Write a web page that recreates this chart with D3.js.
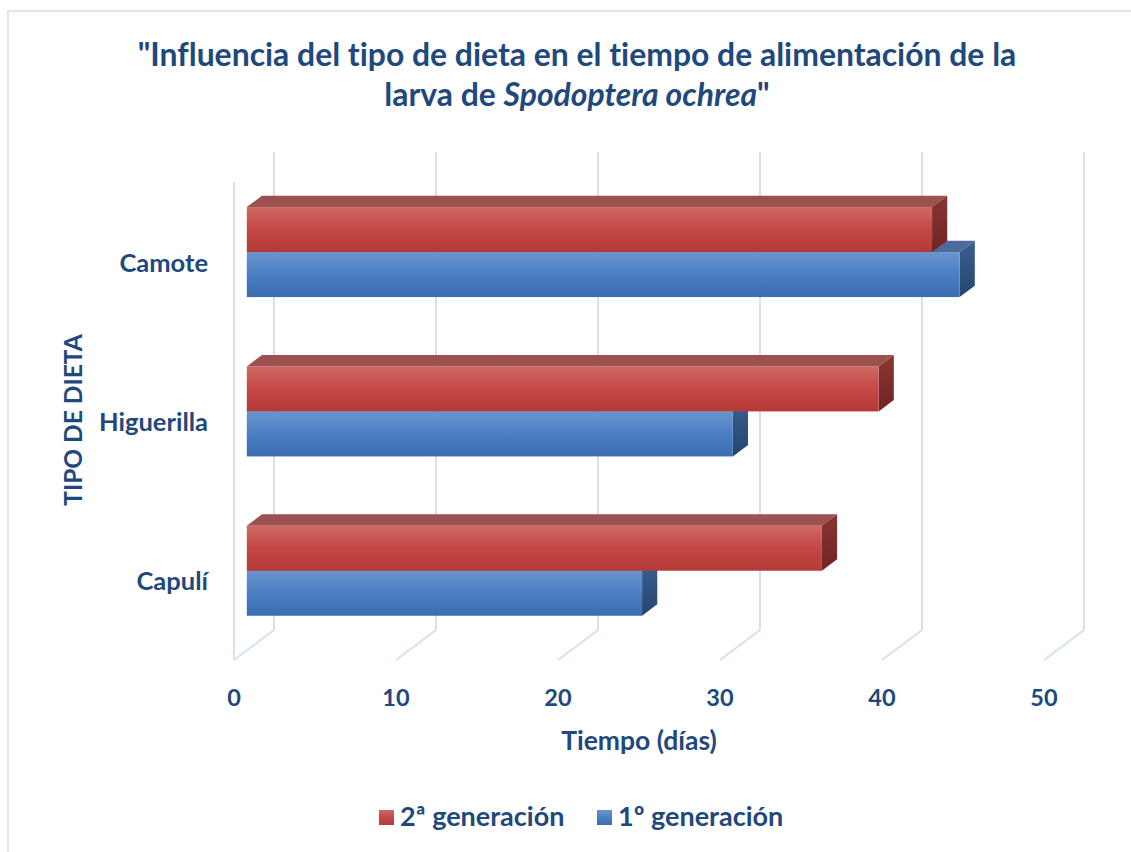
<!DOCTYPE html>
<html>
<head>
<meta charset="utf-8">
<script src="https://cdn.jsdelivr.net/npm/d3@7"></script>
<style>
  body { margin: 0; background: #fff; }
  svg text { font-family: Lato, "Open Sans", sans-serif; font-weight: bold; fill: #1f497d;
             font-variant-ligatures: none; font-feature-settings: "liga" 0, "dlig" 0; }
</style>
</head>
<body>
<svg id="chart" width="1131" height="852"></svg>
<script>
// values
const categories = ["Camote", "Higuerilla", "Capulí"];
const seriesNames = ["2ª generación", "1º generación"];
const gen2 = [42.3, 39, 35.5];
const gen1 = [44, 30, 24.4];
const xTicks = [0, 10, 20, 30, 40, 50];

const svg = d3.select("#chart");
const gridColour = "#d5e1f2";

// 3d box: front plane, then depth offset to the back wall
const depth = {dx: 40, dy: -30};
const barFront = 0.32, barBack = 0.7;
const off = d => [depth.dx * d, depth.dy * d];

const x = d3.scaleLinear().domain([0, 50]).range([234, 1044]);
const y = d3.scaleBand().domain(categories).range([182, 660])
    .paddingInner(0.435).paddingOuter(0.2175);
const ySeries = d3.scaleBand().domain(seriesNames).range([0, y.bandwidth()]);

// gradients
const defs = svg.append("defs");
function vGrad(id, stops) {
    const g = defs.append("linearGradient").attr("id", id)
        .attr("x1", 0).attr("y1", 0).attr("x2", 0).attr("y2", 1);
    stops.forEach(s => g.append("stop").attr("offset", s[0]).attr("stop-color", s[1]));
}
vGrad("redFront", [[0, "#cd6a66"], [0.5, "#c44845"], [1, "#b43a37"]]);
vGrad("blueFront", [[0, "#6a95cd"], [0.5, "#4a7fc2"], [1, "#3b6db0"]]);
vGrad("redSide", [[0, "#8a3532"], [1, "#6e2523"]]);
vGrad("blueSide", [[0, "#3b5f90"], [1, "#254570"]]);

const styles = {
    "2ª generación": {front: "url(#redFront)", top: "#9a514f", side: "url(#redSide)", legend: "url(#redFront)"},
    "1º generación": {front: "url(#blueFront)", top: "#4b6c9b", side: "url(#blueSide)", legend: "url(#blueFront)"}
};

// outer chart border
svg.append("rect").attr("x", 8).attr("y", 11).attr("width", 1140).attr("height", 860)
    .attr("fill", "none").attr("stroke", "#dce6f4").attr("stroke-width", 2);

// title
const title = svg.append("text").attr("text-anchor", "middle").attr("font-size", 31.9);
title.append("tspan").attr("x", 577).attr("y", 66)
    .text("\"Influencia del tipo de dieta en el tiempo de alimentación de la");
const t2 = title.append("tspan").attr("x", 577).attr("y", 106);
t2.append("tspan").text("larva de ");
t2.append("tspan").attr("font-style", "italic").text("Spodoptera ochrea");
t2.append("tspan").text("\"");

// walls and grid
const [bx, by] = off(1);
const y0 = y.range()[0], y1 = y.range()[1];
const grid = svg.append("g").attr("stroke", gridColour).attr("stroke-width", 2).attr("fill", "none");
grid.append("line").attr("x1", x(0)).attr("x2", x(0)).attr("y1", y0).attr("y2", y1);
grid.selectAll(".back").data(xTicks).join("line")
    .attr("x1", d => x(d) + bx).attr("x2", d => x(d) + bx)
    .attr("y1", y0 + by).attr("y2", y1 + by);
grid.selectAll(".floor").data(xTicks).join("line")
    .attr("x1", d => x(d)).attr("x2", d => x(d) + bx)
    .attr("y1", y1).attr("y2", y1 + by);

// bars
const [fx, fy] = off(barFront);
const [kx, ky] = off(barBack);
const rows = [];
categories.forEach((c, i) => {
    // blue first so the red bar sits over it
    rows.push({cat: c, s: seriesNames[1], v: gen1[i]});
    rows.push({cat: c, s: seriesNames[0], v: gen2[i]});
});
const bars = svg.append("g").selectAll("g").data(rows).join("g");
const pt = p => p.map(q => q.join(",")).join(" ");
bars.each(function(d) {
    const g = d3.select(this);
    const left = x(0) + fx, right = x(d.v) + fx;
    const top = y(d.cat) + ySeries(d.s) + fy, bottom = top + ySeries.bandwidth();
    const ddx = kx - fx, ddy = ky - fy;
    g.append("polygon").attr("fill", styles[d.s].top)
        .attr("points", pt([[left, top], [right, top], [right + ddx, top + ddy], [left + ddx, top + ddy]]));
    g.append("polygon").attr("fill", styles[d.s].side)
        .attr("points", pt([[right, top], [right + ddx, top + ddy], [right + ddx, bottom + ddy], [right, bottom]]));
    g.append("rect").attr("x", left).attr("y", top).attr("width", right - left)
        .attr("height", bottom - top).attr("fill", styles[d.s].front);
});

// axis labels
svg.append("g").selectAll("text").data(xTicks).join("text")
    .attr("x", d => x(d)).attr("y", 706).attr("text-anchor", "middle").attr("font-size", 23.5)
    .text(d => d);
svg.append("g").selectAll("text").data(categories).join("text")
    .attr("x", 208).attr("y", d => y(d) + y.bandwidth() / 2 + 1).attr("dy", "0.35em")
    .attr("text-anchor", "end").attr("font-size", 25.5).text(d => d);

svg.append("text").attr("x", (x(0) + x(50)) / 2).attr("y", 750).attr("text-anchor", "middle")
    .attr("font-size", 26.5).text("Tiempo (días)");
svg.append("text").attr("transform", "translate(82,420) rotate(-90)").attr("text-anchor", "middle")
    .attr("font-size", 24.5).text("TIPO DE DIETA");

// legend
const legend = svg.append("g").selectAll("g").data(seriesNames).join("g")
    .attr("transform", (d, i) => `translate(${379 + i * 218},810)`);
legend.append("rect").attr("width", 15).attr("height", 15).attr("fill", d => styles[d].legend);
legend.append("text").attr("x", 21).attr("y", 16).attr("font-size", 27).text(d => d);
</script>
</body>
</html>
